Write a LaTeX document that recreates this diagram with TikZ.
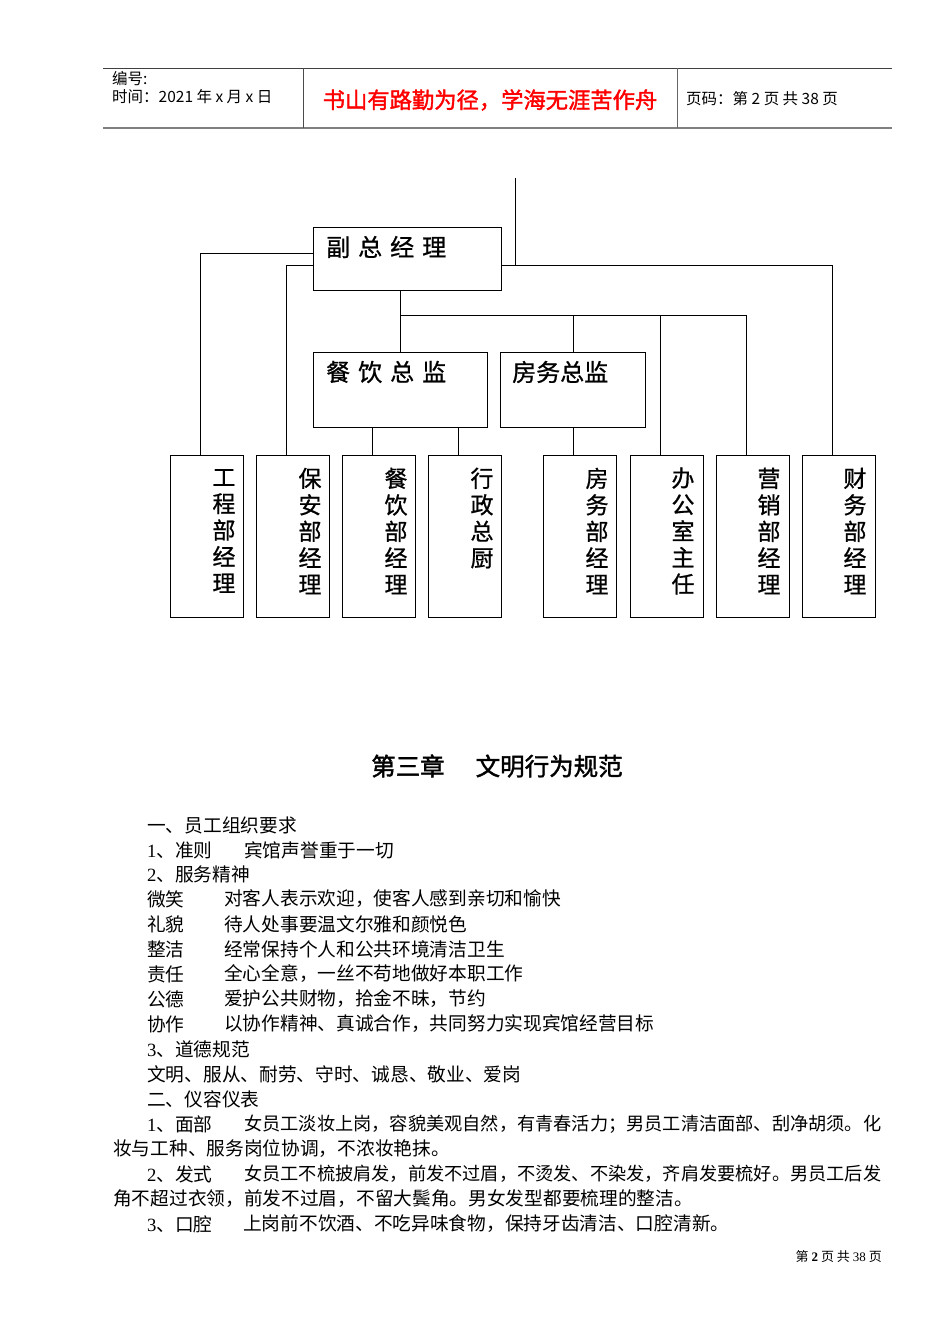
\documentclass[tikz,border=0pt]{standalone}
\usepackage{fontspec}
\setmainfont{Noto Sans CJK SC}
\newfontfamily\fbold[FakeBold=1.6]{Noto Sans CJK SC}
\newfontfamily\fmed[FakeBold=0.8]{Noto Sans CJK SC}
\newfontfamily\serifdig{Liberation Serif}
\usetikzlibrary{calc}
\begin{document}
\begin{tikzpicture}[x=1pt,y=-1pt,
  box/.style={draw,line width=1.1pt,minimum width=#1,inner sep=0,anchor=north west},
  conn/.style={line width=0.9pt},
  vtext/.style={align=center,inner sep=0,font=\fmed\fontsize{23}{26.5}\selectfont},
  htext/.style={anchor=west,inner sep=0,font=\fmed\fontsize{24}{24}\selectfont},
  body/.style={anchor=west,inner sep=0,font=\fontsize{18.7}{18.7}\selectfont},
  bodyj/.style={anchor=west,inner sep=0,font=\fontsize{18.2}{18.2}\selectfont},
  hdr/.style={anchor=west,inner sep=0,font=\fontsize{15.5}{15.5}\selectfont}]
\useasboundingbox (0,0) rectangle (950,1344);
\fill[white] (0,0) rectangle (950,1344);

% ---------- header ----------
\draw[line width=1pt,black!75] (103,68) -- (892,68);
\draw[line width=1.6pt,black!50] (103,128) -- (892,128);
\draw[line width=1pt,black!70] (303,68) -- (303,128);
\draw[line width=1pt,black!60] (677,68) -- (677,128);
\node[hdr] (h1) at (112,79) {编号:};
\node[hdr] (h2) at (112,97) {时间：2021 年 x 月 x 日};
\node[anchor=center,inner sep=0,text=red,font=\fbold\fontsize{22.3}{22.3}\selectfont] (h3) at (490,100) {书山有路勤为径，学海无涯苦作舟};
\node[hdr] (h4) at (686,99) {页码：第 2 页 共 38 页};

% ---------- chart boxes ----------
\node[box=188pt,minimum height=63pt] (fz) at (313,227) {};
\node[box=174pt,minimum height=75pt] (cy) at (313,352) {};
\node[box=145pt,minimum height=75pt] (fw) at (500,352) {};

\node[htext] (fzt) at (326,247) {副\hspace{8pt}总\hspace{8pt}经\hspace{8pt}理};
\node[htext] (cyt) at (326,372) {餐\hspace{8pt}饮\hspace{8pt}总\hspace{8pt}监};
\node[htext] (fwt) at (512,372) {房务总监};

\foreach \n/\x in {gc/170,ba/256,cj/342,xz/428,fj/543,bg/630,yx/716,cw/802}{
  \node[box=73pt,minimum height=162pt] (\n) at (\x,455) {};
  \coordinate (\n t) at ($(\n.north)+(-7,0)$);
}
\node[vtext] (gcl) at (224,531) {工\\程\\部\\经\\理};
\node[vtext] (bal) at (310,531) {保\\安\\部\\经\\理};
\node[vtext] (cjl) at (396,531) {餐\\饮\\部\\经\\理};
\node[vtext] (xzl) at (482,518) {行\\政\\总\\厨};
\node[vtext] (fjl) at (597,531) {房\\务\\部\\经\\理};
\node[vtext] (bgl) at (683,531) {办\\公\\室\\主\\任};
\node[vtext] (yxl) at (769,531) {营\\销\\部\\经\\理};
\node[vtext] (cwl) at (855,531) {财\\务\\部\\经\\理};

% ---------- connectors ----------
\coordinate (top) at (515,178);
\draw[conn] (top) -- (top |- 0,265);
\draw[conn] (fz.east |- 0,265) -| (cwt);
\draw[conn] (fz.west |- 0,253) -| (gct);
\draw[conn] (fz.west |- 0,265) -| (bat);
\draw[conn] (fz.south -| cy.north) -- (cy.north);
\draw[conn] (cy.north |- 0,315) -| (yxt);
\draw[conn] (fw.north |- 0,315) -- (fw.north);
\draw[conn] (bgt |- 0,315) -- (bgt);
\draw[conn] (cjt |- cy.south) -- (cjt);
\draw[conn] (xzt |- cy.south) -- (xzt);
\draw[conn] (fjt |- fw.south) -- (fjt);

% ---------- heading ----------
\node[anchor=west,inner sep=0,font=\fbold\fontsize{24.5}{24.5}\selectfont] (title) at (371,766) {第三章\hspace{31pt}文明行为规范};

% ---------- body ----------
\node[body] (l1) at (147,825) {一、员工组织要求};
\node[body] (l2a) at (147,850) {{\serifdig 1}、准则};
\node[body] (l2b) at (244,850) {宾馆声誉重于一切};
\node[body] (l3) at (147,874) {{\serifdig 2}、服务精神};
\node[body] (l4a) at (147,899) {微笑};
\node[body] (l4b) at (224,899) {对客人表示欢迎，使客人感到亲切和愉快};
\node[body] (l5a) at (147,924) {礼貌};
\node[body] (l5b) at (224,924) {待人处事要温文尔雅和颜悦色};
\node[body] (l6a) at (147,949) {整洁};
\node[body] (l6b) at (224,949) {经常保持个人和公共环境清洁卫生};
\node[body] (l7a) at (147,974) {责任};
\node[body] (l7b) at (224,974) {全心全意，一丝不苟地做好本职工作};
\node[body] (l8a) at (147,999) {公德};
\node[body] (l8b) at (224,999) {爱护公共财物，拾金不昧，节约};
\node[body] (l9a) at (147,1024) {协作};
\node[body] (l9b) at (224,1024) {以协作精神、真诚合作，共同努力实现宾馆经营目标};
\node[body] (l10) at (147,1049) {{\serifdig 3}、道德规范};
\node[body] (l11) at (147,1074) {文明、服从、耐劳、守时、诚恳、敬业、爱岗};
\node[body] (l12) at (147,1099) {二、仪容仪表};
\node[body] (l13a) at (147,1124) {{\serifdig 1}、面部};
\node[bodyj] (l13b) at (244,1124) {女员工淡妆上岗，容貌美观自然，有青春活力；男员工清洁面部、刮净胡须。化};
\node[body] (l14) at (113,1149) {妆与工种、服务岗位协调，不浓妆艳抹。};
\node[body] (l15a) at (147,1174) {{\serifdig 2}、发式};
\node[bodyj] (l15b) at (244,1174) {女员工不梳披肩发，前发不过眉，不烫发、不染发，齐肩发要梳好。男员工后发};
\node[body] (l16) at (113,1199) {角不超过衣领，前发不过眉，不留大鬓角。男女发型都要梳理的整洁。};
\node[body] (l17a) at (147,1224) {{\serifdig 3}、口腔};
\node[body] (l17b) at (243,1224) {上岗前不饮酒、不吃异味食物，保持牙齿清洁、口腔清新。};

% ---------- footer ----------
\node[anchor=east,inner sep=0,font=\fontsize{13}{13}\selectfont] (foot) at (882,1257) {第 {\serifdig\bfseries 2} 页 共 {\serifdig 38} 页};
\end{tikzpicture}
\end{document}
